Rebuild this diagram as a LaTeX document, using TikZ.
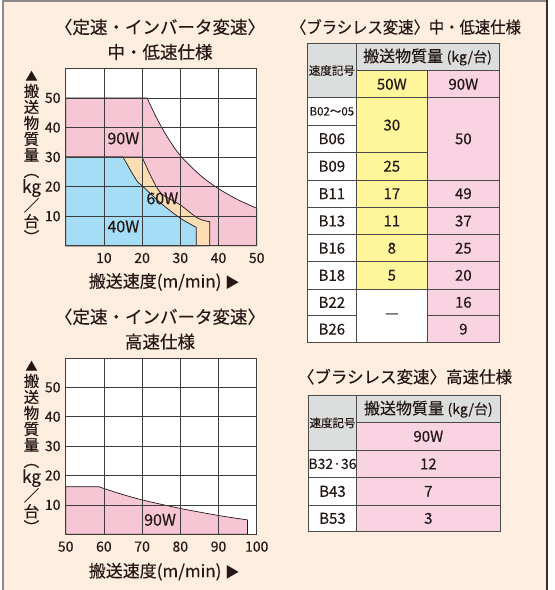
\documentclass[tikz,border=0pt]{standalone}
\usepackage{fontspec}
\setmainfont{Noto Sans CJK JP}[FakeBold=0.3]
\usetikzlibrary{positioning}

\definecolor{pagebg}{HTML}{FDEEE0}
\definecolor{framegray}{HTML}{8C8C8C}
\definecolor{framedark}{HTML}{3A302C}
\definecolor{inkdark}{HTML}{231815}
\definecolor{gridgray}{HTML}{3C3C3C}
\definecolor{tableline}{HTML}{4A4A4A}
\definecolor{pinkarea}{HTML}{F7C6D4}
\definecolor{bluearea}{HTML}{A6DDF6}
\definecolor{peacharea}{HTML}{FDDDB4}
\definecolor{cellyellow}{HTML}{FFF59B}
\definecolor{cellpink}{HTML}{FAD3E3}
\definecolor{cellgray}{HTML}{DCDDDD}

\newcommand{\fsz}[1]{\fontsize{#1}{#1}\selectfont}
\newcommand{\tcell}[7]{
    \draw[cellline, fill=#2] (#3,#4) rectangle (#5,#6);
    \node[celltext] (#1) at ({(#3+#5)/2},{(#4+#6)/2}) {#7};
}
\newcommand{\loadaxis}[3]{
    \node[vlabel] (#1) at (#2,#3) {{\fsz{12}▲}\\搬\\送\\物\\質\\量\\︵\\{\fsz{17}kg}\\／\\台\\︶};
}
\newcommand{\speedaxis}[3]{
    \node[axistitle] (#1) at (#2,#3) {搬送速度(m/min) {\fsz{14}▶}};
}
\tikzset{
    cellline/.style={draw=tableline, line width=0.8pt},
    celltext/.style={font=\fsz{15}, text=inkdark, inner sep=0pt},
    gridline/.style={draw=gridgray, line width=0.8pt},
    arealine/.style={draw=inkdark, line width=0.7pt},
    ticklabel/.style={font=\fsz{14}, text=inkdark, inner sep=0pt},
    arealabel/.style={font=\fsz{16}, text=inkdark, inner sep=0pt},
    charttitle/.style={font=\fsz{17.5}, text=inkdark, inner sep=0pt},
    tabletitle/.style={font=\fsz{16.5}, text=inkdark, inner sep=0pt},
    axistitle/.style={font=\fsz{17}, text=inkdark, inner sep=0pt},
    vlabel/.style={font=\fontsize{15.5}{16}\selectfont, align=center, text=inkdark, inner sep=0pt},
}

\begin{document}
\begin{tikzpicture}[x=1pt, y=-1pt]
    \useasboundingbox (0,0) rectangle (555,590);
    \fill[white] (0,0) rectangle (555,590);
    \fill[pagebg] (2.7,1) rectangle (547,590);
    \draw[framegray, line width=2pt] (2.7,590) -- (2.7,1) -- (547,1);
    \draw[framedark, line width=1.2pt] (547,0) -- (547,590);

    % constant speed / inverter: mid and low speed
    \node[charttitle] (t1a) at (160,27) {〈定速・インバータ変速〉};
    \node[charttitle] (t1b) at (160,52) {中・低速仕様};
    \begin{scope}[shift={(65.7,245.7)}, x=3.82pt, y=2.955pt]
        \fill[white] (0,0) rectangle (50,60);
        \filldraw[fill=pinkarea, arealine] (0,0) -- (0,50) -- plot[smooth] coordinates {(21.3,50) (23.5,44) (25.8,38.5) (28,34) (30,30.5) (33,26.5) (36,23) (40,19.3) (45,15.6) (50,12.7)} -- (50,0) -- cycle;
        \filldraw[fill=peacharea, arealine] (0,0) -- (0,30) -- plot[smooth] coordinates {(20,30) (22.4,23.3) (25,17.7) (30,13.8) (34.6,9.3) (37.7,8.1)} -- (37.7,0) -- cycle;
        \filldraw[fill=bluearea, arealine] (0,0) -- (0,30) -- plot[smooth] coordinates {(15,30) (18.5,22.2) (20,20.3) (25,14.3) (30,9.3) (34.2,6.2)} -- (34.2,0) -- cycle;
        \foreach \x in {10,20,30,40}
            \draw[gridline] (\x,0) -- (\x,60);
        \foreach \y in {10,20,...,50}
            \draw[gridline] (0,\y) -- (50,\y);
        \draw[gridline] (0,0) rectangle (50,60);
        \foreach \x in {10,20,...,50}
            \node[ticklabel, yshift=-12.3pt] (xa\x) at (\x,0) {\x};
        \foreach \y in {10,20,...,50}
            \node[ticklabel, anchor=east, xshift=-5pt] (ya\y) at (0,\y) {\y};
        \node[arealabel] (w90a) at (15.1,36.3) {90W};
        \node[arealabel] (w60a) at (25.3,16.0) {60W};
        \node[arealabel] (w40a) at (15.1,6.5) {40W};
    \end{scope}
    \loadaxis{loada}{31.5}{157}
    \speedaxis{speeda}{164}{282}

    % constant speed / inverter: high speed
    \node[charttitle] (t2a) at (160,316.7) {〈定速・インバータ変速〉};
    \node[charttitle] (t2b) at (160,341.7) {高速仕様};
    \begin{scope}[shift={(-125.3,534.3)}, x=3.82pt, y=2.94pt]
        \fill[white] (50,0) rectangle (100,60);
        \filldraw[fill=pinkarea, arealine] (50,0) -- (50,16.2) -- plot[smooth] coordinates {(58.6,16.2) (64,13.9) (70,11.7) (80,8.8) (90,6.4) (97.6,4.9)} -- (97.6,0) -- cycle;
        \foreach \x in {60,70,80,90}
            \draw[gridline] (\x,0) -- (\x,60);
        \foreach \y in {10,20,...,50}
            \draw[gridline] (50,\y) -- (100,\y);
        \draw[gridline] (50,0) rectangle (100,60);
        \foreach \x in {50,60,...,100}
            \node[ticklabel, yshift=-12.3pt] (xb\x) at (\x,0) {\x};
        \foreach \y in {10,20,...,50}
            \node[ticklabel, anchor=east, xshift=-5pt] (yb\y) at (50,\y) {\y};
        \node[arealabel] (w90b) at (74.7,4.9) {90W};
    \end{scope}
    \loadaxis{loadb}{31.5}{447}
    \speedaxis{speedb}{164}{571.7}

    % brushless: mid and low speed
    \node[tabletitle] (t3) at (406,27) {\scalebox{0.93}[1]{〈ブラシレス変速〉中・低速仕様}};
    \tcell{ta-code}{cellgray}{307.7}{43.3}{356}{97.7}{\fsz{11.5}速度記号}
    \tcell{ta-load}{cellgray}{356}{43.3}{499}{70.7}{\fsz{16}搬送物質量 {\fsz{14}(kg/台)}}
    \tcell{ta-50w}{cellyellow}{356}{70.7}{427.7}{97.7}{50W}
    \tcell{ta-90w}{cellpink}{427.7}{70.7}{499}{97.7}{90W}
    \tcell{ta-r1}{white}{307.7}{97.7}{356}{125}{\fsz{11.5}B02〜05}
    \foreach \k/\lab/\ya/\yb in {2/B06/125/152.5, 3/B09/152.5/180, 4/B11/180/207.3, 5/B13/207.3/234.7, 6/B16/234.7/261.7, 7/B18/261.7/289, 8/B22/289/315.7, 9/B26/315.7/342.7}
        \tcell{ta-r\k}{white}{307.7}{\ya}{356}{\yb}{\lab};
    \tcell{ta-a1}{cellyellow}{356}{97.7}{427.7}{152.5}{30}
    \tcell{ta-a3}{cellyellow}{356}{152.5}{427.7}{180}{25}
    \foreach \k/\val/\ya/\yb in {4/17/180/207.3, 5/11/207.3/234.7, 6/8/234.7/261.7, 7/5/261.7/289}
        \tcell{ta-a\k}{cellyellow}{356}{\ya}{427.7}{\yb}{\val};
    \tcell{ta-a8}{white}{356}{289}{427.7}{342.7}{—}
    \tcell{ta-b1}{cellpink}{427.7}{97.7}{499}{180}{50}
    \foreach \k/\val/\ya/\yb in {4/49/180/207.3, 5/37/207.3/234.7, 6/25/234.7/261.7, 7/20/261.7/289, 8/16/289/315.7, 9/9/315.7/342.7}
        \tcell{ta-b\k}{cellpink}{427.7}{\ya}{499}{\yb}{\val};

    % brushless: high speed
    \node[tabletitle] (t4) at (405,376.7) {〈ブラシレス変速〉高速仕様};
    \tcell{tb-code}{cellgray}{308.3}{395.7}{356.7}{450}{\fsz{11.5}速度記号}
    \tcell{tb-load}{cellgray}{356.7}{395.7}{500}{422.7}{\fsz{16}搬送物質量 {\fsz{14}(kg/台)}}
    \tcell{tb-90w}{cellpink}{356.7}{422.7}{500}{450}{90W}
    \tcell{tb-r1}{white}{308.3}{450}{356.7}{477.7}{\fsz{14}B32·36}
    \tcell{tb-b1}{cellpink}{356.7}{450}{500}{477.7}{12}
    \tcell{tb-r2}{white}{308.3}{477.7}{356.7}{505}{B43}
    \tcell{tb-b2}{cellpink}{356.7}{477.7}{500}{505}{7}
    \tcell{tb-r3}{white}{308.3}{505}{356.7}{531.7}{B53}
    \tcell{tb-b3}{cellpink}{356.7}{505}{500}{531.7}{3}
\end{tikzpicture}
\end{document}
